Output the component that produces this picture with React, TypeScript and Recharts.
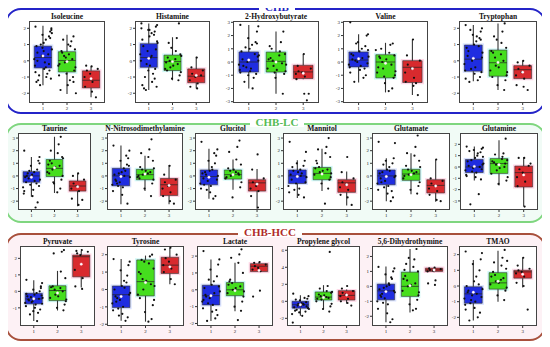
import React from "react";
import { ComposedChart, XAxis, YAxis, Scatter, ReferenceArea, ReferenceLine } from "recharts";

// groups 1 = CHB, 2 = CHB-LC, 3 = CHB-HCC
const GROUPS = [1, 2, 3];
const X_TICKS = [1, 2, 3];
const GROUP_COLORS = ["#1f2de0", "#45de1e", "#d82a2e"];
const HALO_COLORS = ["#b8c8ff", "#a8f4ee", "#ffb8d4"];

// horizontal spread of the points around each group
const JITTER = [-0.31, 0.12, -0.05, 0.27, -0.2, 0.35, 0.03, -0.36, 0.18, -0.12, 0.3, -0.27, 0.08, -0.16, 0.22, -0.02, 0.37, -0.33, 0.14, -0.09, 0.25, -0.23, 0.05, 0.33];

const TICKS_2 = [-2, -1, 0, 1, 2];
const TICKS_3 = [-3, -2, -1, 0, 1, 2, 3];
const TICKS_LC = [-2, -1, 0, 1, 2, 3];

// box stats: [whisker low, q1, median, q3, whisker high, mean]
const ISOLEUCINE_BOX = [[-1.5, -0.44, 0.2, 0.9, 2.15, 0.3], [-2.05, -0.69, 0.02, 0.56, 1.6, -0.05], [-2.25, -1.67, -1.2, -0.62, -0.35, -1.1]];
const ISOLEUCINE_PTS = [
  [2.1, 1.9, 1.8, 1.6, 1.5, 1.3, 1.1, 0.9, 0.7, 0.5, 0.3, 0.1, -0.1, -0.3, -0.5, -0.6, -0.8, -0.9, -1.0, -1.1, -1.2, -1.5, 0.4, 1.0, -0.7, 2.0, 1.4, 0.8, -0.2, -0.4, 0.6, -1.3, 1.7, 0.0],
  [1.5, 1.2, 1.3, 0.9, 0.7, 0.5, 0.3, 0.1, -0.1, -0.2, -0.4, -0.6, -0.8, -1.0, -1.2, -1.5, -1.8, -2.0, 0.6, 0.2, -0.3, 0.4, -0.9, 1.0, -1.3],
  [-0.35, -0.3, -0.5, -0.6, -0.8, -1.0, -1.3, -1.6, -1.9, -2.25],
];
const HISTAMINE_BOX = [[-1.8, -0.4, 0.2, 1.05, 2.3, 0.15], [-1.2, -0.6, -0.05, 0.35, 1.45, -0.05], [-1.7, -1.35, -0.95, -0.5, 0.25, -0.9]];
const HISTAMINE_PTS = [
  [2.3, 2.2, 2.1, 1.9, 1.8, 1.7, 1.5, 1.3, 1.1, 0.9, 0.6, 0.4, 0.2, 0, -0.3, -0.5, -0.8, -1.0, -1.3, -1.6, -1.7, -1.8, 1.6, -0.2, 2.0, 1.2, 0.7, -0.6, -1.1, 0.3, 1.9, -1.5],
  [2.3, 1.4, 1.1, 0.6, 0.4, 0.2, 0, -0.2, -0.4, -0.5, -0.7, -0.9, -1.1, -1.2, 0.1, -0.3, -0.1, 0.3, -0.6, 0.8],
  [0.2, -0.4, -0.6, -0.8, -1.0, -1.2, -1.4, -1.6, -1.7, -0.9],
];
const HYDROXYBUTYRATE_BOX = [[-2.0, -0.76, 0, 0.76, 2.8, 0.15], [-2.4, -0.76, 0.05, 0.75, 2.3, 0], [-1.3, -1.25, -0.75, -0.25, 0.6, -0.85]];
const HYDROXYBUTYRATE_PTS = [
  [2.8, 2.7, 2.3, 1.8, 1.5, 1.3, 1.0, 0.8, 0.5, 0.2, 0, -0.2, -0.5, -0.6, -0.7, -0.9, -1.2, -1.5, -2.0, 0.4, -0.3, 1.1, 0.6, -0.4, -0.8, 0.1, 1.4, -1.0],
  [2.3, 1.5, 1.0, 0.8, 0.6, 0.3, 0.1, -0.1, -0.3, -0.5, -0.7, -0.9, -1.2, -2.4, 0.5, -0.6, 0.2, -0.2, 1.2, -0.8],
  [0.6, -0.3, -0.5, -0.7, -0.8, -0.9, -1.1, -1.3, -2.4, -2.4, -2.9],
];
const VALINE_BOX = [[-1.55, -0.37, 0.15, 0.76, 2.1, 0.25], [-2.3, -1.2, 0, 0.55, 1.45, -0.1], [-2.5, -1.55, -0.4, 0.1, 1.7, -0.5]];
const VALINE_PTS = [
  [3.0, 2.1, 2.0, 1.5, 1.2, 1.0, 0.8, 0.6, 0.4, 0.2, 0, -0.2, -0.3, -0.4, -0.6, -1.0, -1.2, -1.5, 0.3, -0.1, 0.5, 0.1, -0.5, 1.4, -0.8, 0.9],
  [1.4, 1.3, 1.0, 0.7, 0.5, 0.3, 0, -0.2, -0.5, -0.8, -1.0, -1.2, -1.6, -2.0, -2.2, 0.2, -0.4, -0.7, 0.4, -1.1, 0.9],
  [1.7, 0.5, 0.1, -0.2, -0.5, -0.8, -1.2, -1.5, -1.8, -2.5, -1.6],
];
const TRYPTOPHAN_BOX = [[-1.26, -0.64, 0.1, 0.97, 2.2, 0.15], [-1.8, -0.95, -0.12, 0.66, 2.3, -0.1], [-1.1, -1.1, -0.55, -0.3, 0, -0.7]];
const TRYPTOPHAN_PTS = [
  [2.2, 2.0, 1.8, 1.6, 1.4, 1.2, 1.0, 0.8, 0.5, 0.3, 0, -0.2, -0.4, -0.6, -0.8, -1.0, -1.2, -1.3, 1.5, -0.7, 0.6, 1.9, 0.9, -0.5, -1.1, 0.2, 1.3],
  [2.3, 1.8, 1.5, 1.1, 0.8, 0.5, 0.2, 0, -0.3, -0.6, -0.9, -1.2, -1.5, -1.8, 0.4, -0.4, 0.6, -0.7, -1.0, 1.3],
  [0, -0.1, -0.3, -0.5, -0.7, -0.9, -1.1, -1.5, -1.6, -1.8],
];
const TAURINE_BOX = [[-1.66, -0.5, 0, 0.34, 1.5, -0.1], [-1.35, -0.05, 0.6, 1.3, 3.1, 0.65], [-2.4, -1.2, -0.8, -0.4, 0.2, -0.85]];
const TAURINE_PTS = [
  [2.0, 1.5, 1.2, 0.8, 0.5, 0.3, 0.1, -0.1, -0.3, -0.5, -0.7, -0.9, -1.1, -1.4, -1.6, -2.1, -2.5, 0.2, -0.4, -0.8, 0.0, -0.2, -0.6, 0.4, -1.2, 1.0],
  [3.1, 2.5, 2.0, 1.8, 1.5, 1.2, 1.0, 0.8, 0.5, 0.3, 0, -0.3, -0.6, -1.0, -1.3, 0.7, 0.9, 1.4, 0.2, -0.5],
  [0.2, 0, -0.3, -0.6, -0.8, -1.0, -1.2, -1.8, -2.3, -1.9],
];
const NITROSO_BOX = [[-2.25, -0.78, 0, 0.6, 2.4, -0.05], [-1.2, -0.3, 0.1, 0.52, 1.6, 0.15], [-2.25, -1.55, -0.7, -0.2, 0.85, -0.75]];
const NITROSO_PTS = [
  [2.4, 2.0, 1.4, 1.2, 0.9, 0.6, 0.3, 0.1, -0.1, -0.3, -0.5, -0.7, -0.9, -1.2, -1.5, -2.2, 0.4, -0.6, 0.0, 0.8, -0.4, -0.8, 1.6, 0.2],
  [2.9, 2.1, 1.8, 1.5, 1.2, 0.7, 0.5, 0.3, 0.1, -0.1, -0.3, -0.6, -1.0, -1.6, 0.2, 0.4, 0.0, 0.6, -0.2],
  [0.8, 0.1, -0.3, -0.5, -0.8, -1.0, -1.3, -1.6, -2.0, -2.2],
];
const GLUCITOL_BOX = [[-1.8, -0.7, -0.05, 0.47, 2.15, -0.1], [-1.1, -0.25, 0.1, 0.47, 1.3, 0.1], [-2.6, -1.2, -0.55, -0.3, 0.55, -0.65]];
const GLUCITOL_PTS = [
  [2.7, 2.1, 1.6, 1.2, 1.0, 0.7, 0.4, 0.2, 0, -0.2, -0.4, -0.6, -0.8, -1.0, -1.3, -1.6, -1.8, 0.3, 0.5, -0.3, -0.7, 0.1, 1.8, -1.1],
  [2.8, 2.3, 1.9, 1.3, 0.9, 0.6, 0.4, 0.2, 0, -0.2, -0.5, -0.9, -1.7, 0.1, 0.3, 0.5, -0.1],
  [1.7, 0.5, -0.2, -0.5, -0.8, -1.0, -1.2, -1.6, -2.5],
];
const MANNITOL_BOX = [[-1.75, -0.6, 0, 0.47, 1.25, -0.05], [-1.2, -0.3, 0.2, 0.67, 2.15, 0.15], [-2.35, -1.3, -0.55, -0.3, 0.35, -0.7]];
const MANNITOL_PTS = [
  [2.7, 1.9, 1.2, 1.0, 0.8, 0.5, 0.3, 0.1, -0.1, -0.3, -0.6, -0.8, -1.0, -1.3, -1.5, -1.7, 0.2, 0.4, 0.0, -0.5, 0.7, -1.1],
  [3.0, 2.3, 2.1, 1.8, 1.5, 1.0, 0.7, 0.5, 0.3, 0.1, -0.1, -0.3, -0.6, -1.0, -2.2, 0.4, 0.6, 0.2, 1.2],
  [1.5, 0.3, -0.2, -0.5, -0.7, -0.9, -1.1, -1.5, -1.7, -2.3],
];
const GLUTAMATE_BOX = [[-2.0, -0.7, 0, 0.47, 1.4, -0.05], [-1.45, -0.35, 0.15, 0.52, 1.8, 0.1], [-2.05, -1.35, -0.75, -0.3, 1.3, -0.8]];
const GLUTAMATE_PTS = [
  [2.7, 2.6, 1.4, 1.2, 1.0, 0.7, 0.5, 0.2, 0, -0.2, -0.4, -0.6, -0.8, -1.1, -1.4, -1.7, -2.0, 0.3, 0.4, -0.1, -0.5, 0.9, -1.2, -0.9],
  [3.2, 2.3, 1.8, 1.6, 1.2, 0.8, 0.5, 0.3, 0.1, -0.2, -0.5, -0.8, -1.1, -1.4, 0.2, 0.4, 0.0, 0.7],
  [1.3, -0.2, -0.4, -0.6, -0.8, -1.0, -1.2, -1.5, -1.9, -2.0],
];
const GLUTAMINE_BOX = [[-1.2, -0.49, 0, 0.66, 1.8, 0.05], [-1.63, -0.57, 0.3, 0.74, 2.37, 0.2], [-3.5, -1.77, -0.5, 0.08, 0.86, -0.7]];
const GLUTAMINE_PTS = [
  [1.8, 1.7, 1.6, 1.5, 1.3, 1.0, 0.8, 0.5, 0.3, 0.1, -0.1, -0.3, -0.5, -0.7, -0.9, -1.1, -2.4, -3.3, 1.2, 0.2, 1.4, 0.6, 0.0, -0.4, -0.8, 0.9, -0.2],
  [2.5, 1.2, 1.1, 0.9, 0.6, 0.4, 0.2, 0, -0.3, -0.6, -0.9, -1.2, -1.5, 0.3, 0.7, -0.1, 0.5],
  [0.8, 0.8, 0.3, -0.2, -0.5, -0.9, -1.3, -1.7, -3.5, 0.1],
];
const PYRUVATE_BOX = [[-1.8, -0.76, -0.46, -0.12, 0.68, -0.45], [-1.16, -0.56, 0.05, 0.34, 1.24, -0.1], [0.24, 0.88, 2.1, 2.2, 2.44, 1.65]];
const PYRUVATE_PTS = [
  [0.7, 0.5, 0.3, 0.1, 0, -0.1, -0.2, -0.3, -0.4, -0.5, -0.6, -0.7, -0.8, -0.9, -1.0, -1.1, -1.3, -1.4, -1.8, -0.25, -0.55, -0.35, -0.45, -0.65, -0.15, -0.75, 0.2, -1.2],
  [2.5, 2.4, 2.3, 1.2, 0.8, 0.3, 0.1, 0, -0.2, -0.4, -0.6, -0.8, -1.0, -1.15, 0.2, -0.3, 0.25, -0.5],
  [2.5, 2.45, 2.4, 2.3, 2.2, 1.3, 0.8, 0.3, 0.15],
];
const TYROSINE_BOX = [[-1.8, -1.04, -0.3, 0.2, 1.75, -0.4], [-1.85, -0.37, 0.45, 1.7, 1.95, 0.4], [0.3, 0.92, 1.4, 1.85, 2.4, 1.3]];
const TYROSINE_PTS = [
  [1.75, 1.6, 1.4, 1.1, 0.8, 0.5, 0.2, 0, -0.2, -0.4, -0.6, -0.8, -1.0, -1.2, -1.4, -1.6, -1.8, -0.5, 0.1, -0.3, -0.7, -1.1, 0.4, -1.5],
  [2.0, 1.9, 1.7, 1.5, 1.2, 0.9, 0.6, 0.3, 0, -0.3, -0.6, -0.9, -1.3, -1.7, -1.85, 0.5, 1.0, 0.2, -0.5, 1.6],
  [2.4, 2.3, 2.0, 1.8, 1.6, 1.4, 1.2, 1.0, 0.6, 0.3],
];
const LACTATE_BOX = [[-1.86, -0.9, -0.35, 0.27, 1.8, -0.35], [-1.27, -0.35, 0, 0.43, 1.6, -0.05], [1.08, 1.08, 1.4, 1.55, 1.65, 1.15]];
const LACTATE_PTS = [
  [2.3, 1.8, 1.5, 1.2, 0.8, 0.5, 0.3, 0.1, -0.1, -0.3, -0.5, -0.7, -0.9, -1.1, -1.3, -1.5, -1.7, -1.85, -0.2, 0.2, -0.4, -0.8, -1.2, 0.6, -0.6],
  [2.4, 2.1, 1.9, 1.6, 1.0, 0.6, 0.4, 0.2, 0, -0.2, -0.4, -0.7, -1.0, -1.25, -1.8, 0.1, 0.3, -0.1, 0.5],
  [1.65, 1.6, 1.5, 1.4, 1.3, 1.2, 1.1, -0.4, -0.05],
];
const PROPYLENE_BOX = [[-1.7, -0.8, -0.4, 0, 0.7, -0.4], [-0.9, 0.15, 0.5, 1.1, 1.9, 0.45], [-0.25, 0.15, 0.7, 1.25, 1.4, 0.75]];
const PROPYLENE_PTS = [
  [0.9, 0.6, 0.3, 0.1, -0.1, -0.3, -0.5, -0.7, -0.9, -1.1, -1.3, -1.5, -1.7, -2.5, -0.2, -0.6, 0.4, -1.0, -0.4, -0.8, 0.2, -0.5, -1.2, -0.3],
  [5.8, 1.8, 1.5, 1.2, 1.0, 0.8, 0.6, 0.4, 0.2, 0, -0.3, -0.6, -0.9, -1.2, 0.5, 0.7, 0.3, 1.1],
  [1.8, 1.5, 1.2, 1.0, 0.8, 0.6, 0.3, 0, -0.2, -0.5],
];
const DHT_BOX = [[-2.4, -0.9, -0.3, 0.15, 1.33, -0.35], [-1.75, -0.67, 0, 0.95, 2.5, 0.05], [0.95, 1.0, 1.1, 1.22, 1.25, 1.1]];
const DHT_PTS = [
  [1.3, 1.2, 1.0, 0.8, 0.5, 0.2, 0, -0.2, -0.4, -0.6, -0.8, -1.0, -1.2, -1.5, -1.8, -2.2, -2.4, -0.5, 0.1, -0.3, -0.7, -1.1, 0.6, -0.1],
  [2.5, 1.8, 1.5, 1.3, 1.0, 0.7, 0.4, 0.2, 0, -0.3, -0.6, -0.9, -1.2, -1.5, -1.6, 0.1, 0.5, -0.4, 1.1, 1.9],
  [1.25, 1.2, 1.15, 1.1, 1.05, 1.0, 0.4, 0.2, 0.1],
];
const TMAO_BOX = [[-2.2, -1.1, -0.5, -0.05, 1.65, -0.4], [-1.0, -0.2, 0.2, 0.85, 2.25, 0.3], [-0.1, 0.5, 0.9, 1.0, 1.8, 0.75]];
const TMAO_PTS = [
  [2.2, 2.1, 1.7, 1.4, 1.0, 0.6, 0.3, 0, -0.2, -0.4, -0.6, -0.8, -1.0, -1.2, -1.4, -1.7, -2.0, -2.2, -0.5, -0.7, -0.3, -1.1, 0.1, -0.9, -1.5],
  [2.3, 1.8, 1.5, 1.3, 1.1, 0.9, 0.7, 0.5, 0.3, 0.1, -0.1, -0.3, -0.6, -0.9, 0.4, 0.2, 0.6, 1.6],
  [1.8, 1.3, 1.1, 1.0, 0.9, 0.8, 0.6, 0.2, 0, -1.5],
];

const CHARTS = [
  { title: "Isoleucine", domain: [-2.6, 2.45], ticks: TICKS_2, box: ISOLEUCINE_BOX, pts: ISOLEUCINE_PTS },
  { title: "Histamine", domain: [-2.6, 2.45], ticks: TICKS_2, box: HISTAMINE_BOX, pts: HISTAMINE_PTS },
  { title: "2-Hydroxybutyrate", domain: [-3.1, 3.1], ticks: TICKS_3, box: HYDROXYBUTYRATE_BOX, pts: HYDROXYBUTYRATE_PTS },
  { title: "Valine", domain: [-3.1, 3.1], ticks: TICKS_3, box: VALINE_BOX, pts: VALINE_PTS },
  { title: "Tryptophan", domain: [-2.6, 2.45], ticks: TICKS_2, box: TRYPTOPHAN_BOX, pts: TRYPTOPHAN_PTS },
  { title: "Taurine", domain: [-2.7, 3.4], ticks: TICKS_LC, box: TAURINE_BOX, pts: TAURINE_PTS },
  { title: "N-Nitrosodimethylamine", domain: [-2.7, 3.4], ticks: TICKS_LC, box: NITROSO_BOX, pts: NITROSO_PTS },
  { title: "Glucitol", domain: [-2.7, 3.4], ticks: TICKS_LC, box: GLUCITOL_BOX, pts: GLUCITOL_PTS },
  { title: "Mannitol", domain: [-2.7, 3.4], ticks: TICKS_LC, box: MANNITOL_BOX, pts: MANNITOL_PTS },
  { title: "Glutamate", domain: [-2.7, 3.4], ticks: TICKS_LC, box: GLUTAMATE_BOX, pts: GLUTAMATE_PTS },
  { title: "Glutamine", domain: [-3.8, 3.0], ticks: [-3, -2, -1, 0, 1, 2], box: GLUTAMINE_BOX, pts: GLUTAMINE_PTS },
  { title: "Pyruvate", domain: [-2.1, 2.75], ticks: [-1, 0, 1, 2], box: PYRUVATE_BOX, pts: PYRUVATE_PTS },
  { title: "Tyrosine", domain: [-2.1, 2.5], ticks: TICKS_2, box: TYROSINE_BOX, pts: TYROSINE_PTS },
  { title: "Lactate", domain: [-2.15, 2.6], ticks: TICKS_2, box: LACTATE_BOX, pts: LACTATE_PTS },
  { title: "Propylene glycol", domain: [-2.9, 6.5], ticks: [-2, 0, 2, 4, 6], box: PROPYLENE_BOX, pts: PROPYLENE_PTS },
  { title: "5,6-Dihydrothymine", domain: [-2.65, 2.7], ticks: TICKS_2, box: DHT_BOX, pts: DHT_PTS },
  { title: "TMAO", domain: [-2.55, 2.55], ticks: TICKS_2, box: TMAO_BOX, pts: TMAO_PTS },
];

// plot rectangles [x, y, w, h] on the page
const RECTS = [
  [29, 21, 76, 82], [135, 21, 75, 82], [233, 21, 86, 82], [343, 21, 85, 82], [459, 21, 78, 82],
  [18, 133, 73, 77], [107, 133, 76, 77], [195, 133, 76, 77], [283, 133, 78, 77], [372, 133, 78, 77], [460, 133, 78, 77],
  [20, 246, 75, 80], [107, 246, 77, 80], [197, 246, 76, 80], [287, 246, 73, 80], [372, 246, 76, 80], [459, 246, 78, 80],
];

const PANELS = [
  { label: "CHB", border: "#2424c8", text: "#2222c0", bg: "#ffffff", top: 8, height: 106, cx: 277 },
  { label: "CHB-LC", border: "#7fd67f", text: "#55bb55", bg: "#f1fbf6", top: 123, height: 100, cx: 277 },
  { label: "CHB-HCC", border: "#a8503c", text: "#b02a2a", bg: "#fdf1f5", top: 233, height: 108, cx: 270 },
];

const X_DOMAIN = [0.42, 3.58];
const YW = 12;
const XH = 10;
const tickStyle = { fontSize: 5, fill: "#222", fontFamily: "'Liberation Serif', serif" };

const Dot = (p: any) => <circle cx={p.cx} cy={p.cy} r={1.1} fill="#111" />;
const MeanDot = (p: any) => <circle cx={p.cx} cy={p.cy} r={1.2} fill="#fff" stroke="#fde" strokeWidth={0.4} />;

function BoxChart({ spec, rect }: { spec: any; rect: number[] }) {
  const [px, py, pw, ph] = rect;
  const points = spec.pts.flatMap((ys: number[], g: number) =>
    ys.map((y, i) => ({ x: GROUPS[g] + JITTER[(i * 5 + g * 3) % JITTER.length] * (g === 2 ? 0.75 : 1), y }))
  );
  const means = spec.box.map((b: number[], g: number) => ({ x: GROUPS[g], y: b[5] }));
  const pad = (spec.domain[1] - spec.domain[0]) * 0.02;

  return (
    <>
      <div style={{ position: "absolute", left: px - 20, top: py - 8, width: pw + 40, textAlign: "center", fontWeight: "bold", fontSize: 7.5, lineHeight: "8px", whiteSpace: "nowrap" }}>
        {spec.title}
      </div>
      <div style={{ position: "absolute", left: px, top: py, width: pw, height: ph, border: "1px solid #444", boxSizing: "border-box", background: "#fff" }} />
      <div style={{ position: "absolute", left: px - YW, top: py }}>
        <ComposedChart width={pw + YW} height={ph + XH} margin={{ top: 0, right: 0, bottom: 0, left: 0 }}>
          <XAxis type="number" dataKey="x" domain={X_DOMAIN} ticks={X_TICKS} allowDataOverflow axisLine={false} tickSize={2} tickMargin={1} height={XH} tick={tickStyle} tickLine={{ stroke: "#333" }} interval={0} />
          <YAxis type="number" dataKey="y" domain={spec.domain} ticks={spec.ticks} allowDataOverflow axisLine={false} tickSize={2} tickMargin={1} width={YW} tick={tickStyle} tickLine={{ stroke: "#333" }} interval={0} />
          {spec.box.map((b: number[], g: number) => (
            <ReferenceArea key={"h" + g} x1={GROUPS[g] - 0.43} x2={GROUPS[g] + 0.43} y1={b[1] - pad} y2={b[3] + pad} fill={HALO_COLORS[g]} fillOpacity={0.55} stroke="none" ifOverflow="hidden" />
          ))}
          {spec.box.map((b: number[], g: number) => (
            <ReferenceArea key={"b" + g} x1={GROUPS[g] - 0.36} x2={GROUPS[g] + 0.36} y1={b[1]} y2={b[3]} fill={GROUP_COLORS[g]} fillOpacity={1} stroke="#333" strokeWidth={0.6} ifOverflow="hidden" />
          ))}
          {spec.box.map((b: number[], g: number) => (
            <ReferenceLine key={"wl" + g} segment={[{ x: GROUPS[g], y: b[0] }, { x: GROUPS[g], y: b[1] }]} stroke="#333" strokeWidth={1.1} ifOverflow="hidden" />
          ))}
          {spec.box.map((b: number[], g: number) => (
            <ReferenceLine key={"wh" + g} segment={[{ x: GROUPS[g], y: b[3] }, { x: GROUPS[g], y: b[4] }]} stroke="#333" strokeWidth={1.1} ifOverflow="hidden" />
          ))}
          {spec.box.map((b: number[], g: number) => (
            <ReferenceLine key={"m" + g} segment={[{ x: GROUPS[g] - 0.36, y: b[2] }, { x: GROUPS[g] + 0.36, y: b[2] }]} stroke="#222" strokeWidth={0.7} ifOverflow="hidden" />
          ))}
          <Scatter data={points} isAnimationActive={false} shape={Dot} />
          <Scatter data={means} isAnimationActive={false} shape={MeanDot} />
        </ComposedChart>
      </div>
    </>
  );
}

export default function App() {
  return (
    <div style={{ position: "relative", width: 550, height: 347, margin: "-8px 0 0 -8px", background: "#fff", overflow: "hidden", fontFamily: "'Liberation Serif', serif", color: "#111" }}>
      {PANELS.map((p) => (
        <div key={p.label} style={{ position: "absolute", left: 5, top: p.top, width: 541, height: p.height, border: `2px solid ${p.border}`, borderRadius: 16, boxSizing: "border-box", background: p.bg }} />
      ))}
      {PANELS.map((p) => (
        <div key={p.label + "t"} style={{ position: "absolute", left: p.cx - 50, top: p.top - 5, width: 100, height: 9, textAlign: "center", lineHeight: "9px" }}>
          <span style={{ display: "inline-block", height: 9, lineHeight: "9px", background: "#fff", padding: "0 6px", color: p.text, fontWeight: "bold", fontSize: 11, verticalAlign: "top" }}>{p.label}</span>
        </div>
      ))}
      {CHARTS.map((c, i) => (
        <BoxChart key={c.title} spec={c} rect={RECTS[i]} />
      ))}
    </div>
  );
}
